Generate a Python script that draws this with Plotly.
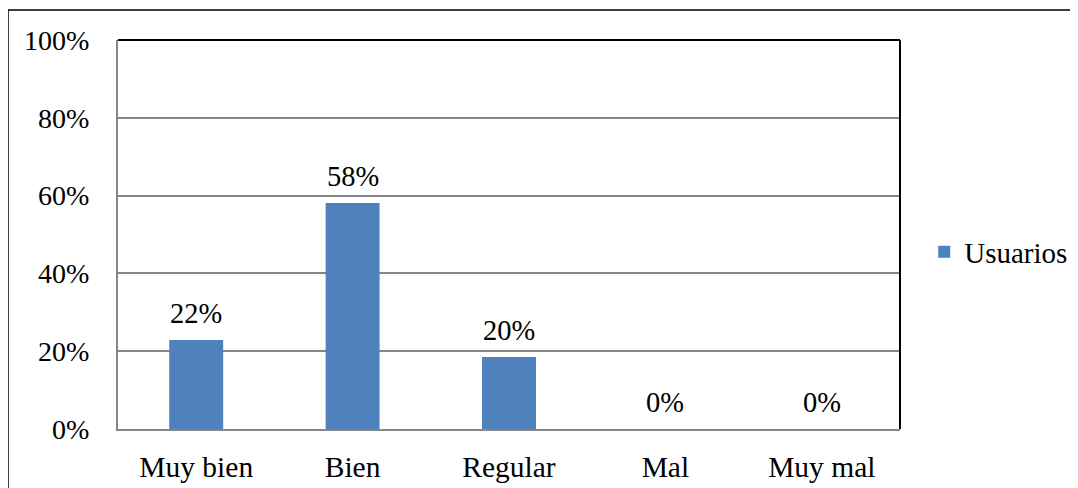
import plotly.graph_objects as go

categories = ["Muy bien", "Bien", "Regular", "Mal", "Muy mal"]
values = [22.9, 58.1, 18.5, 0, 0]
labels = ["22%", "58%", "20%", "0%", "0%"]
series_name = "Usuarios"
y_ticks = [0, 20, 40, 60, 80, 100]
y_tick_text = ["0%", "20%", "40%", "60%", "80%", "100%"]

FONT = "Liberation Serif"
BAR = "#4F81BD"
GRID = "#868686"

# page has an 8px body margin; size the figure so it fits the window exactly
L, T = 110, 32
PW, PH = 782, 389
W, H = 1070, 480

fig = go.Figure()
fig.add_trace(go.Bar(x=categories, y=values, name=series_name,
                     marker=dict(color=BAR, line=dict(width=0)), width=0.345))

for c, v, t in zip(categories, values, labels):
    fig.add_annotation(x=c, y=v, text=t, showarrow=False, yanchor="bottom",
                       yshift=9, font=dict(family=FONT, size=28.5, color="#000"))

fig.update_layout(
    width=W, height=H,
    margin=dict(l=L, r=W - L - PW, t=T, b=H - T - PH, autoexpand=False),
    paper_bgcolor="white", plot_bgcolor="white",
    font=dict(family=FONT, size=28, color="#000"),
    showlegend=True,
    legend=dict(x=1.031, y=0.455, xanchor="left", yanchor="middle",
                font=dict(family=FONT, size=29), itemwidth=30,
                bgcolor="rgba(0,0,0,0)"),
    bargap=0.655,
)
fig.update_xaxes(showgrid=False, showline=True, linecolor=GRID, linewidth=2,
                 ticks="outside", ticklen=11, tickcolor="white", automargin=False,
                 tickfont=dict(family=FONT, size=29.5))
fig.update_yaxes(range=[0, 100], tickvals=y_ticks, ticktext=y_tick_text,
                 showgrid=True, gridcolor=GRID, gridwidth=1.5, automargin=False,
                 showline=True, linecolor=GRID, linewidth=2, zeroline=False,
                 ticks="outside", ticklen=21, tickcolor="white",
                 tickfont=dict(family=FONT, size=28))

# plot-area top/right borders
fig.add_shape(type="line", xref="paper", yref="paper", x0=0, x1=1, y0=1, y1=1,
              line=dict(color="black", width=2))
fig.add_shape(type="line", xref="paper", yref="paper", x0=1, x1=1, y0=0, y1=1,
              line=dict(color="black", width=2))
# outer chart frame (right and bottom edges fall outside the view)
fig.add_shape(type="rect", xref="paper", yref="paper",
              x0=(0 - L) / PW, x1=(1100 - L) / PW,
              y0=-0.3, y1=(T + PH - 2) / PH,
              line=dict(color="black", width=1.5), fillcolor="rgba(0,0,0,0)")

fig.write_html("out.html")
